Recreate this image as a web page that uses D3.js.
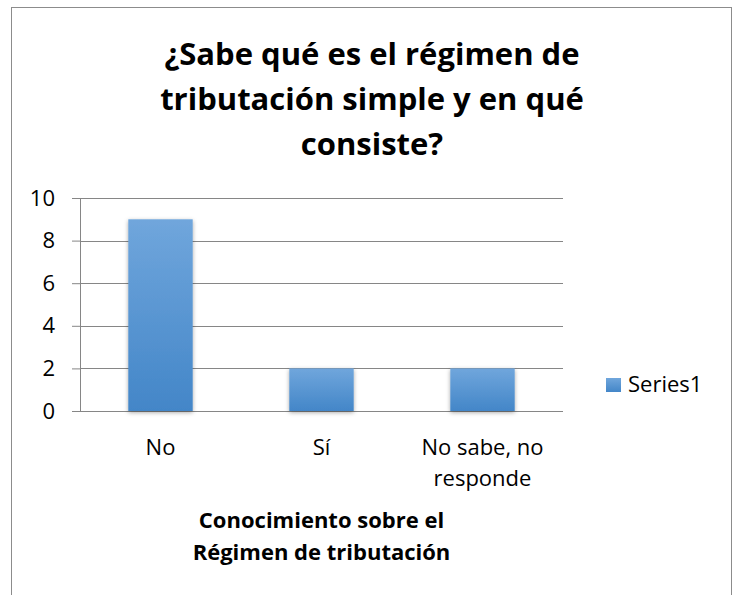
<!DOCTYPE html>
<html>
<head>
<meta charset="utf-8">
<script src="https://cdn.jsdelivr.net/npm/d3@7"></script>
<style>
  body { margin: 0; background: #fff; }
  svg text { font-family: "Open Sans", Lato, sans-serif; fill: #000; }
</style>
</head>
<body>
<div id="chart"></div>
<script>
// data
const categories = ["No", "Sí", "No sabe, no responde"];
const values = [9, 2, 2];
const yTicks = [0, 2, 4, 6, 8, 10];
const titleLines = ["¿Sabe qué es el régimen de", "tributación simple y en qué", "consiste?"];
const xTitleLines = ["Conocimiento sobre el", "Régimen de tributación"];
const seriesName = "Series1";

// set the dimensions
const width = 740, height = 595;
const plot = {left: 80, right: 563, top: 198, bottom: 411};

const svg = d3.select("#chart")
  .append("svg")
  .attr("width", width)
  .attr("height", height);

const defs = svg.append("defs");
const grad = defs.append("linearGradient")
  .attr("id", "barGrad")
  .attr("x1", 0).attr("y1", 0).attr("x2", 0).attr("y2", 1);
grad.append("stop").attr("offset", "0%").attr("stop-color", "#70a6dc");
grad.append("stop").attr("offset", "100%").attr("stop-color", "#4386c8");

const shadow = defs.append("filter")
  .attr("id", "shadow")
  .attr("x", "-20%").attr("y", "-20%").attr("width", "140%").attr("height", "140%");
shadow.append("feDropShadow")
  .attr("dx", 0).attr("dy", 1.5)
  .attr("stdDeviation", 2)
  .attr("flood-color", "#000")
  .attr("flood-opacity", 0.35);

// outer border
svg.append("rect")
  .attr("x", 11.5)
  .attr("y", 7.5)
  .attr("width", 720)
  .attr("height", 600)
  .attr("fill", "#fff")
  .attr("stroke", "#8c8c8c")
  .attr("stroke-width", 1);

// title
svg.append("g")
  .selectAll("text")
  .data(titleLines)
  .enter()
  .append("text")
  .attr("x", 372)
  .attr("y", (d, i) => 65 + i * 45)
  .attr("text-anchor", "middle")
  .attr("font-size", 31)
  .attr("font-weight", "bold")
  .text(d => d);

const x = d3.scaleBand()
  .domain(categories)
  .range([plot.left, plot.right])
  .paddingInner(0.6)
  .paddingOuter(0.3);

const y = d3.scaleLinear()
  .domain([0, 10])
  .range([plot.bottom, plot.top]);

// gridlines + y axis
const yAxis = svg.append("g")
  .attr("transform", `translate(${plot.left},0)`)
  .call(d3.axisLeft(y)
    .tickValues(yTicks)
    .tickSize(8)
    .tickPadding(17));
yAxis.select(".domain").remove();
yAxis.selectAll("text")
  .attr("font-size", 22)
  .style("font-family", "'Open Sans', sans-serif")
  .attr("fill", "#000");
yAxis.selectAll("line").attr("stroke", "#868686");

svg.append("g")
  .selectAll("line")
  .data(yTicks)
  .enter()
  .append("line")
  .attr("x1", plot.left)
  .attr("x2", plot.right)
  .attr("y1", d => Math.round(y(d)) + 0.5)
  .attr("y2", d => Math.round(y(d)) + 0.5)
  .attr("stroke", "#868686")
  .attr("stroke-width", 1);

svg.append("line")
  .attr("x1", plot.left + 0.5)
  .attr("x2", plot.left + 0.5)
  .attr("y1", plot.top)
  .attr("y2", plot.bottom)
  .attr("stroke", "#868686");

// bars
svg.append("g")
  .selectAll("rect")
  .data(values)
  .enter()
  .append("rect")
  .attr("x", (d, i) => x(categories[i]))
  .attr("y", d => y(d))
  .attr("width", x.bandwidth())
  .attr("height", d => y(0) - y(d))
  .attr("fill", "url(#barGrad)")
  .attr("filter", "url(#shadow)");

// x labels (wrap on comma)
const xLabels = svg.append("g")
  .selectAll("text")
  .data(categories)
  .enter()
  .append("text")
  .attr("text-anchor", "middle")
  .attr("font-size", 22)
  .attr("x", d => x(d) + x.bandwidth() / 2)
  .attr("y", 455);
xLabels.each(function(d) {
  const parts = d === "No sabe, no responde" ? ["No sabe, no", "responde"] : [d];
  d3.select(this).selectAll("tspan")
    .data(parts)
    .enter()
    .append("tspan")
    .attr("x", x(d) + x.bandwidth() / 2)
    .attr("dy", (p, i) => i === 0 ? 0 : 31)
    .text(p => p);
});

// x axis title
svg.append("g")
  .selectAll("text")
  .data(xTitleLines)
  .enter()
  .append("text")
  .attr("x", (plot.left + plot.right) / 2)
  .attr("y", (d, i) => 528 + i * 32)
  .attr("text-anchor", "middle")
  .attr("font-size", 22)
  .attr("font-weight", "bold")
  .text(d => d);

// legend
const legend = svg.append("g").attr("transform", "translate(606,378)");
legend.append("rect")
  .attr("width", 15)
  .attr("height", 14)
  .attr("fill", "url(#barGrad)");
legend.append("text")
  .attr("x", 22)
  .attr("y", 14)
  .attr("font-size", 22)
  .text(seriesName);
</script>
</body>
</html>
